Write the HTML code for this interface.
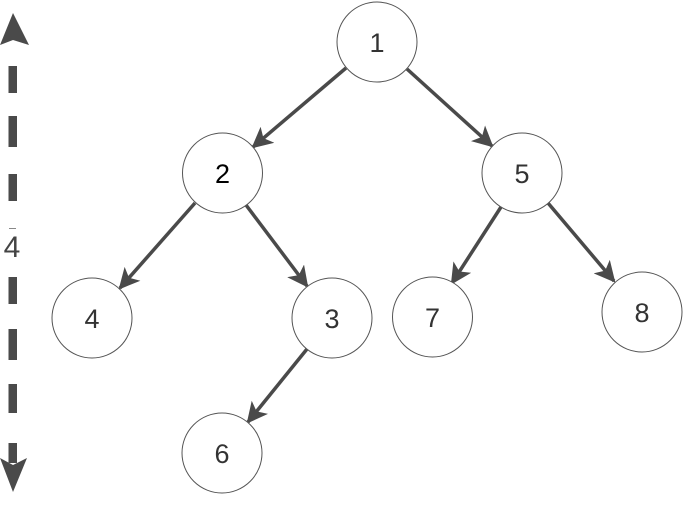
<!DOCTYPE html>
<html><head><meta charset="utf-8"><style>
html,body{margin:0;padding:0;background:#fff;}
#w{position:relative;width:683px;height:506px;}
svg{position:absolute;left:0;top:0;}
.t{position:absolute;width:60px;margin-left:-30px;text-align:center;font-family:"Liberation Sans",sans-serif;font-size:27px;line-height:28px;color:#333;}
</style></head><body><div id="w">
<svg width="683" height="506" viewBox="0 0 683 506" xmlns="http://www.w3.org/2000/svg">
<defs>
<marker id="a" viewBox="0 0 10 10" refX="9" refY="5" markerWidth="6" markerHeight="6" orient="auto" markerUnits="strokeWidth">
<path d="M0,0 L10,5 L0,10 L2.5,5 Z" fill="#4a4a4a"/>
</marker>
</defs>
<g stroke="#4a4a4a" stroke-width="3.5" fill="none" marker-end="url(#a)">
<line x1="346" y1="68" x2="253" y2="147"/>
<line x1="407" y1="69" x2="492" y2="146"/>
<line x1="195" y1="203" x2="120" y2="288"/>
<line x1="246" y1="205" x2="307" y2="286"/>
<line x1="501" y1="207" x2="452" y2="283"/>
<line x1="548" y1="203" x2="614" y2="281"/>
<line x1="307" y1="349" x2="248" y2="422"/>
</g>
<g fill="#fff" stroke="#555" stroke-width="1">
<circle cx="377" cy="42" r="40"/>
<circle cx="222.5" cy="173" r="40"/>
<circle cx="522" cy="173" r="40"/>
<circle cx="92" cy="318" r="40"/>
<circle cx="332" cy="318" r="40"/>
<circle cx="432.5" cy="317" r="40"/>
<circle cx="642" cy="312" r="40"/>
<circle cx="222" cy="453" r="40"/>
</g>
<g fill="#4a4a4a">
<path d="M13,13 L29,45 L13,40 L0,45 Z"/>
<rect x="8.5" y="66" width="8.5" height="27"/>
<rect x="8.5" y="116" width="8.5" height="31"/>
<rect x="8.5" y="174" width="8.5" height="27"/>
<rect x="8.5" y="277" width="8.5" height="27"/>
<rect x="8.5" y="329" width="8.5" height="31"/>
<rect x="8.5" y="384" width="8.5" height="29"/>
<rect x="8.5" y="443" width="8.5" height="20"/>
<path d="M0,458 L13,465 L27,458 L13,492 Z"/>
</g>
<line x1="9" y1="228.5" x2="16" y2="228.5" stroke="#888" stroke-width="1"/>
</svg>
<div class="t" style="left:377px;top:29px">1</div>
<div class="t" style="left:222.5px;top:160px;color:#000">2</div>
<div class="t" style="left:522px;top:160px">5</div>
<div class="t" style="left:92px;top:305px">4</div>
<div class="t" style="left:332px;top:305px">3</div>
<div class="t" style="left:432.5px;top:304px">7</div>
<div class="t" style="left:642px;top:299px">8</div>
<div class="t" style="left:222px;top:440px">6</div>
<div class="t" style="left:12px;top:233px;font-size:30px;line-height:30px;color:#444">4</div>
</div></body></html>
